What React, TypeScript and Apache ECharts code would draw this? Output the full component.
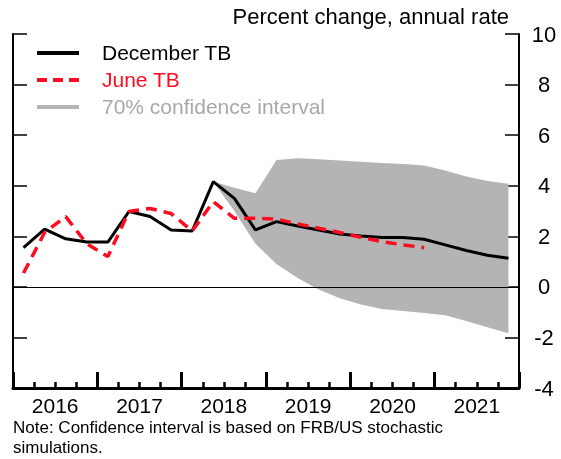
import React, { useEffect, useRef } from "react";
import * as echarts from "echarts";

const quarters = [
  "2016Q1","2016Q2","2016Q3","2016Q4",
  "2017Q1","2017Q2","2017Q3","2017Q4",
  "2018Q1","2018Q2","2018Q3","2018Q4",
  "2019Q1","2019Q2","2019Q3","2019Q4",
  "2020Q1","2020Q2","2020Q3","2020Q4",
  "2021Q1","2021Q2","2021Q3","2021Q4",
];
const years = ["2016", "2017", "2018", "2019", "2020", "2021"];

const decemberTB = [1.55, 2.28, 1.9, 1.77, 1.77, 2.98, 2.78, 2.25, 2.21, 4.16, 3.5, 2.25,
  2.58, 2.41, 2.25, 2.09, 2.01, 1.95, 1.95, 1.88, 1.66, 1.44, 1.25, 1.13];
const juneTB = [0.55, 2.15, 2.78, 1.7, 1.2, 2.98, 3.1, 2.9, 2.21, 3.37, 2.71, 2.71,
  2.68, 2.49, 2.32, 2.15, 1.96, 1.79, 1.66, 1.55, null, null, null, null];
const bandUpper = [null, null, null, null, null, null, null, null, null, 4.16, 3.92, 3.7,
  5.02, 5.09, 5.05, 5.0, 4.95, 4.9, 4.86, 4.8, 4.6, 4.36, 4.19, 4.08];
const bandLower = [null, null, null, null, null, null, null, null, null, 4.16, 3.0, 1.7,
  0.9, 0.35, -0.1, -0.45, -0.7, -0.88, -0.95, -1.03, -1.12, -1.35, -1.6, -1.83];
const yTicks = { min: -4, max: 10, interval: 2 };

const FONT = '"Liberation Sans", Arial, Helvetica, sans-serif';
const BAND = "#b4b4b4";

export default function App() {
  const ref = useRef<HTMLDivElement>(null);
  useEffect(() => {
    if (!ref.current) return;
    const chart = echarts.init(ref.current, undefined, { renderer: "svg" });
    const bandDiff = bandUpper.map((u, i) =>
      u == null || bandLower[i] == null ? null : +(u - (bandLower[i] as number)).toFixed(3)
    );
    const yBase = {
      type: "value",
      min: yTicks.min,
      max: yTicks.max,
      interval: yTicks.interval,
      splitLine: { show: false },
      axisLine: { show: true, lineStyle: { color: "#000", width: 2 } },
      axisTick: { show: true, inside: true, length: 14, lineStyle: { color: "#000", width: 1.5 } },
    };
    chart.setOption({
      animation: false,
      textStyle: { fontFamily: FONT },
      grid: { left: 13, right: 42, top: 34, bottom: 71, containLabel: false },
      xAxis: [
        {
          type: "category",
          data: quarters,
          position: "bottom",
          boundaryGap: true,
          axisLine: { show: true, onZero: false, lineStyle: { color: "#000", width: 3 } },
          axisTick: { show: true, inside: true, interval: 0, length: 6, lineStyle: { color: "#000", width: 2.5 } },
          axisLabel: { show: false },
          splitLine: { show: false },
        },
        {
          type: "category",
          data: years,
          position: "bottom",
          boundaryGap: true,
          axisLine: { show: false, onZero: false },
          axisTick: { show: true, inside: true, interval: 0, length: 16, lineStyle: { color: "#000", width: 3 } },
          axisLabel: { show: true, color: "#000", fontSize: 21, lineHeight: 16, fontFamily: FONT, margin: 9 },
          splitLine: { show: false },
        },
      ],
      yAxis: [
        {
          ...yBase,
          position: "right",
          axisLabel: { show: true, color: "#000", fontSize: 22, fontFamily: FONT, margin: 25, align: "center" },
        },
        {
          ...yBase,
          position: "left",
          axisLabel: { show: false },
        },
      ],
      series: [
        {
          name: "lower",
          type: "line",
          data: bandLower,
          stack: "band",
          stackStrategy: "all",
          symbol: "none",
          lineStyle: { opacity: 0, width: 0 },
          silent: true,
        },
        {
          name: "70% confidence interval",
          type: "line",
          data: bandDiff,
          stack: "band",
          stackStrategy: "all",
          symbol: "none",
          lineStyle: { opacity: 0, width: 0 },
          areaStyle: { color: BAND, opacity: 1 },
          silent: true,
          markLine: {
            silent: true,
            symbol: "none",
            label: { show: false },
            lineStyle: { color: "#000", width: 1, type: "solid" },
            data: [{ yAxis: 0 }],
          },
        },
        {
          name: "December TB",
          type: "line",
          data: decemberTB,
          symbol: "none",
          lineStyle: { color: "#000", width: 3 },
          z: 3,
        },
        {
          name: "June TB",
          type: "line",
          data: juneTB,
          symbol: "none",
          connectNulls: false,
          lineStyle: { color: "#ff0a1e", width: 3.5, type: [11, 7] },
          z: 4,
        },
      ],
      graphic: [
        {
          type: "text",
          right: 52,
          top: 5,
          style: { text: "Percent change, annual rate", font: `22px ${FONT}`, fill: "#000" },
        },
        { type: "line", shape: { x1: 37, y1: 53, x2: 79, y2: 53 }, style: { stroke: "#000", lineWidth: 4 } },
        { type: "text", left: 102, top: 42, style: { text: "December TB", font: `21px ${FONT}`, fill: "#000" } },
        { type: "line", shape: { x1: 37, y1: 80, x2: 79, y2: 80 }, style: { stroke: "#ff0a1e", lineWidth: 4, lineDash: [10, 6] } },
        { type: "text", left: 102, top: 69, style: { text: "June TB", font: `21px ${FONT}`, fill: "#ff0a1e" } },
        { type: "line", shape: { x1: 37, y1: 107, x2: 79, y2: 107 }, style: { stroke: BAND, lineWidth: 4 } },
        { type: "text", left: 102, top: 96, style: { text: "70% confidence interval", font: `21px ${FONT}`, fill: "#a8a8a8" } },
        {
          type: "text",
          left: 13,
          top: 417,
          style: {
            text: "Note: Confidence interval is based on FRB/US stochastic\nsimulations.",
            font: `17px ${FONT}`,
            lineHeight: 20,
            fill: "#000",
          },
        },
      ],
    });
    return () => chart.dispose();
  }, []);
  return (
    <div
      ref={ref}
      style={{ position: "fixed", left: 0, top: 0, width: 561, height: 459 }}
    />
  );
}
